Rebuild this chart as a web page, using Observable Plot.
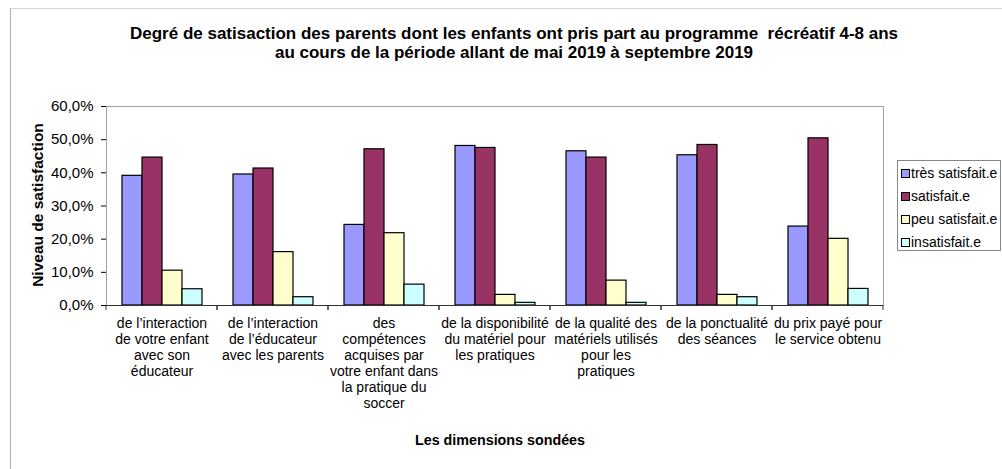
<!DOCTYPE html>
<html><head><meta charset="utf-8">
<script src="https://cdn.jsdelivr.net/npm/d3@7"></script>
<script src="https://cdn.jsdelivr.net/npm/@observablehq/plot@0.6"></script>
<style>
body{margin:0;background:#fff;font-family:"Liberation Sans",Arial,sans-serif;color:#000;}
#wrap{position:relative;width:1002px;height:469px;overflow:hidden;background:#fff;}
#border{position:absolute;left:10px;top:8px;width:1000px;height:470px;border-left:1px solid #b0b0b0;border-top:1px solid #d4d4d4;}
#title{position:absolute;left:0;width:1028px;top:24px;text-align:center;font-weight:bold;font-size:17px;line-height:19px;}
#chart{position:absolute;left:0;top:90px;}
#ytitle{position:absolute;left:38px;top:205px;transform:translate(-50%,-50%) rotate(-90deg);font-weight:bold;font-size:15.5px;white-space:nowrap;}
#xtitle{position:absolute;left:500px;top:440px;transform:translate(-50%,-50%);font-weight:bold;font-size:14.3px;white-space:nowrap;}
#legend{position:absolute;left:897px;top:160px;width:104px;height:91px;border:1px solid #888;box-sizing:border-box;font-size:14px;}
#legend .item{position:absolute;left:3px;white-space:nowrap;line-height:16px;}
#legend .sw{display:inline-block;width:7px;height:7px;border:1px solid #000;margin-right:1px;vertical-align:0px;}
</style>
</head><body>
<div id="wrap">
<div id="border"></div>
<div id="title">Degré de satisaction des parents dont les enfants ont pris part au programme&nbsp; récréatif 4-8 ans<br>au cours de la période allant de mai 2019 à septembre 2019</div>
<div id="chart"></div>
<div id="ytitle">Niveau de satisfaction</div>
<div id="xtitle">Les dimensions sondées</div>
<div id="legend"></div>
</div>
<script>
const categories = [
  "de l’interaction\nde votre enfant\navec son\néducateur",
  "de l’interaction\nde l’éducateur\navec les parents",
  "des\ncompétences\nacquises par\nvotre enfant dans\nla pratique du\nsoccer",
  "de la disponibilité\ndu matériel pour\nles pratiques",
  "de la qualité des\nmatériels utilisés\npour les\npratiques",
  "de la ponctualité\ndes séances",
  "du prix payé pour\nle service obtenu"
];
const series = ["très satisfait.e", "satisfait.e", "peu satisfait.e", "insatisfait.e"];
const tresSatisfait = [39.1, 39.5, 24.3, 48.1, 46.5, 45.3, 23.8];
const satisfait     = [44.6, 41.3, 47.1, 47.5, 44.6, 48.4, 50.4];
const peuSatisfait  = [10.5, 16.1, 21.8, 3.2, 7.5, 3.2, 20.1];
const insatisfait   = [4.9, 2.5, 6.3, 0.8, 0.8, 2.5, 5.0];
const colors = ["#9999ff", "#993366", "#ffffcc", "#ccffff"];
const yTicks = [0, 10, 20, 30, 40, 50, 60];

const seriesValues = [tresSatisfait, satisfait, peuSatisfait, insatisfait];
const rows = categories.flatMap((c, i) => series.map((s, j) => ({category: c, series: s, value: seriesValues[j][i]})));

function boundaryTicks(index, scales) {
  const [a, b] = scales.x.range();
  const y0 = scales.y(0);
  const g = d3.create("svg:g").attr("stroke", "#333").attr("stroke-width", 1);
  for (const x of [a, b]) g.append("line").attr("x1", x).attr("x2", x).attr("y1", y0).attr("y2", y0 + 5);
  return g.node();
}

const chart = Plot.plot({
  width: 1002, height: 379,
  marginLeft: 104, marginRight: 117, marginTop: 16, marginBottom: 164,
  style: {fontFamily: '"Liberation Sans", Arial, sans-serif', fontSize: "14px", color: "#000", background: "transparent", overflow: "visible"},
  fx: {domain: categories, padding: 0},
  x: {domain: series, paddingInner: 0, paddingOuter: 0.755, axis: null},
  y: {domain: [0, 60]},
  color: {domain: series, range: colors},
  marks: [
    Plot.frame({facet: "super", stroke: "#a0a0a0"}),
    Plot.barY(rows, {fx: "category", x: "series", y: "value", fill: "series", stroke: "#000", strokeWidth: 1.2}),
    Plot.ruleY([0], {stroke: "#333"}),
    boundaryTicks,
    Plot.axisY({ticks: yTicks, tickFormat: d => d.toFixed(1).replace(".", ",") + "%", tickSize: 5, tickPadding: 8, label: null, fontSize: 15}),
    Plot.axisFx({anchor: "bottom", tickSize: 0, tickPadding: 11, lineHeight: 1.14, label: null, fontSize: 14})
  ]
});
document.getElementById("chart").appendChild(chart);

const legend = document.getElementById("legend");
series.forEach((s, i) => {
  const item = document.createElement("div");
  item.className = "item";
  item.style.top = (4 + i * 23) + "px";
  const sw = document.createElement("span");
  sw.className = "sw";
  sw.style.background = colors[i];
  item.appendChild(sw);
  item.appendChild(document.createTextNode(s));
  legend.appendChild(item);
});
</script>
</body></html>
